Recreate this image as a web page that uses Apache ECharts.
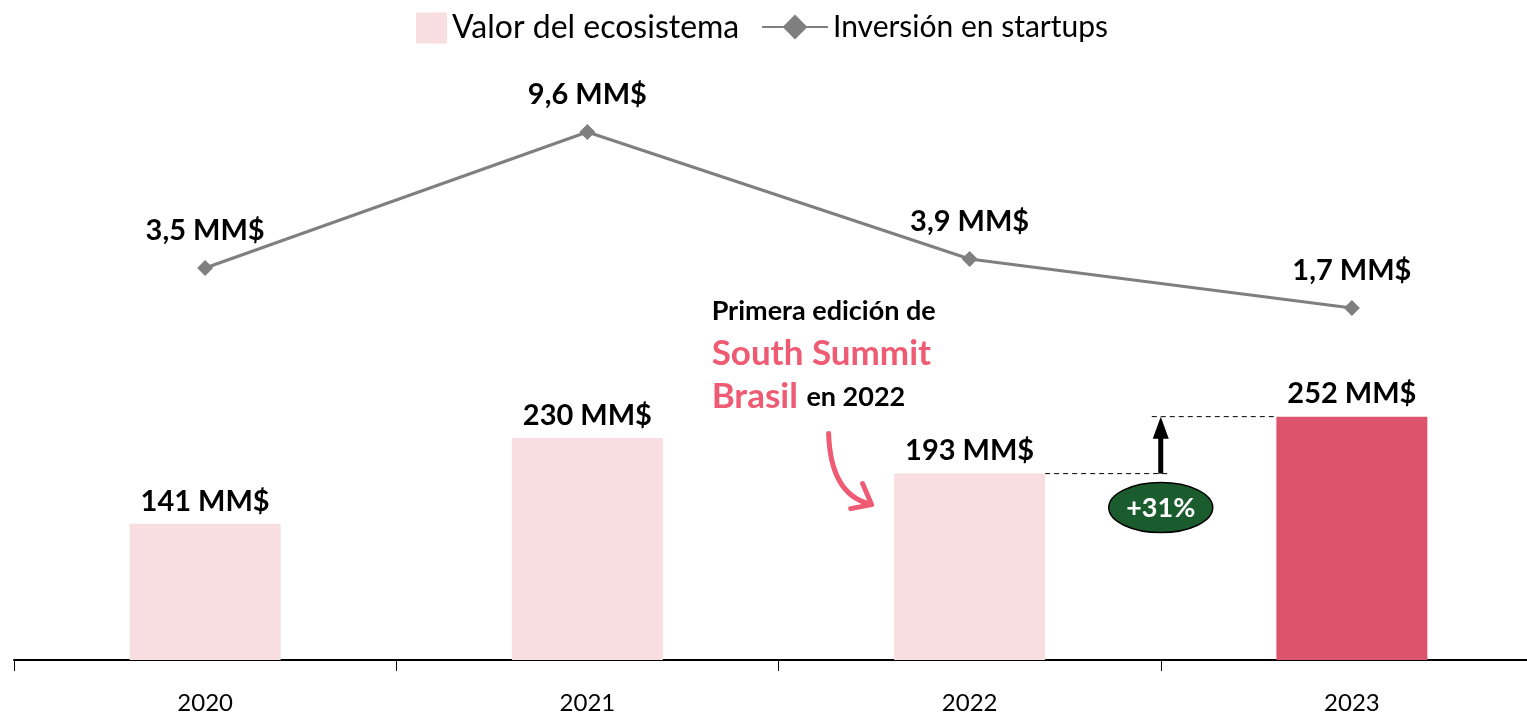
<!DOCTYPE html>
<html>
<head>
<meta charset="utf-8">
<script src="https://cdn.jsdelivr.net/npm/echarts@6/dist/echarts.min.js"></script>
<style>
  html, body { margin: 0; padding: 0; background: #fff; }
  #chart { width: 1527px; height: 716px; }
</style>
</head>
<body>
<div id="chart"></div>
<script>
// Ecosystem value (bars, MM$) and startup investment (line, MM$) per year
const years = ['2020', '2021', '2022', '2023'];
const ecosystemValue = [141, 230, 193, 252];
const startupInvestment = [3.5, 9.6, 3.9, 1.7];
const ecosystemLabels = ['141 MM$', '230 MM$', '193 MM$', '252 MM$'];
const investmentLabels = ['3,5 MM$', '9,6 MM$', '3,9 MM$', '1,7 MM$'];
const growthLabel = '+31%';

const PINK_LIGHT = '#f8dde1';
const PINK_DARK = '#dc546c';
const ACCENT = '#ee5b73';
const GRAY = '#7f7f7f';
const FONT = 'Lato, "Open Sans", sans-serif';

const chart = echarts.init(document.getElementById('chart'), null, { renderer: 'canvas' });

const barData = ecosystemValue.map((v, i) => ({
  value: v,
  itemStyle: { color: i === ecosystemValue.length - 1 ? PINK_DARK : PINK_LIGHT }
}));

chart.setOption({
  animation: false,
  textStyle: { fontFamily: FONT },
  legend: [
    {
      data: [{ name: 'Valor del ecosistema', icon: 'rect' }],
      left: 411, top: 7,
      itemWidth: 31, itemHeight: 31,
      textStyle: { fontSize: 32, color: '#000', fontFamily: FONT }
    },
    {
      data: ['Inversión en startups'],
      left: 756, top: 7,
      itemWidth: 66, itemHeight: 31,
      textStyle: { fontSize: 30, color: '#000', fontFamily: FONT }
    }
  ],
  grid: { left: 14, width: 1529, top: 40, bottom: 56, outerBoundsMode: 'none' },
  xAxis: {
    type: 'category',
    data: years,
    boundaryGap: true,
    axisLine: { lineStyle: { color: '#000', width: 2 } },
    axisTick: { show: true, length: 11, lineStyle: { color: '#000', width: 1 } },
    axisLabel: { fontSize: 24, color: '#000', margin: 31, fontFamily: FONT }
  },
  yAxis: [
    { type: 'value', min: 0, max: 642, show: false, splitLine: { show: false } },
    { type: 'value', min: -14.084, max: 13.725, show: false, splitLine: { show: false } }
  ],
  series: [
    {
      name: 'Valor del ecosistema',
      type: 'bar',
      data: barData,
      barWidth: 151,
      itemStyle: { color: PINK_LIGHT },
      label: {
        show: true, position: 'top', distance: 8,
        formatter: p => ecosystemLabels[p.dataIndex],
        fontSize: 29, fontWeight: 'bold', color: '#000', fontFamily: FONT
      },
      z: 2
    },
    {
      name: 'Inversión en startups',
      type: 'line',
      yAxisIndex: 1,
      data: startupInvestment,
      symbol: 'diamond',
      symbolSize: 16,
      lineStyle: { color: GRAY, width: 3 },
      itemStyle: { color: GRAY },
      label: {
        show: true, position: 'top', distance: 15,
        formatter: p => investmentLabels[p.dataIndex],
        fontSize: 29, fontWeight: 'bold', color: '#000', fontFamily: FONT
      },
      z: 3
    }
  ]
});

// Annotation overlay positioned from the chart's own scales
function px(cat, val) {
  return chart.convertToPixel({ xAxisIndex: 0, yAxisIndex: 0 }, [cat, val]);
}
const p22 = px('2022', ecosystemValue[2]);
const p23 = px('2023', ecosystemValue[3]);
const half = 151 / 2;
const midX = (p22[0] + p23[0]) / 2;
const y22 = p22[1];
const y23 = p23[1];

// curved arrow pointing at the 2022 bar
const ax = p22[0] - 141, ay = y22 - 40;

chart.setOption({
  graphic: [
    {
      type: 'text',
      x: p22[0] - 258, y: y22 - 184,
      style: {
        text: '{a|Primera edición de}\n{b|South Summit}\n{b|Brasil }{a|en 2022}',
        rich: {
          a: { fontSize: 27, fontWeight: 'bold', fill: '#000', fontFamily: FONT, lineHeight: 43 },
          b: { fontSize: 35, fontWeight: 'bold', fill: ACCENT, fontFamily: FONT, lineHeight: 43 }
        }
      }
    },
    {
      type: 'bezierCurve',
      shape: {
        x1: ax, y1: ay,
        cpx1: ax + 2, cpy1: ay + 60,
        x2: ax + 40, y2: ay + 70
      },
      style: { stroke: ACCENT, lineWidth: 5, fill: null, lineCap: 'round' }
    },
    {
      type: 'polyline',
      shape: { points: [[ax + 34, ay + 50], [ax + 43, ay + 71], [ax + 22, ay + 75]] },
      style: { stroke: ACCENT, lineWidth: 5, fill: null, lineCap: 'round', lineJoin: 'round' }
    },
    {
      type: 'line',
      shape: { x1: p22[0] + half, y1: y22, x2: midX + 10, y2: y22 },
      style: { stroke: '#000', lineWidth: 1, lineDash: [5, 4] }
    },
    {
      type: 'line',
      shape: { x1: midX - 9, y1: y23, x2: p23[0] - half, y2: y23 },
      style: { stroke: '#000', lineWidth: 1, lineDash: [5, 4] }
    },
    {
      type: 'line',
      shape: { x1: midX, y1: y22, x2: midX, y2: y23 + 20 },
      style: { stroke: '#000', lineWidth: 5 }
    },
    {
      type: 'polygon',
      shape: { points: [[midX - 8, y23 + 22], [midX + 8, y23 + 22], [midX, y23]] },
      style: { fill: '#000' }
    },
    {
      type: 'ellipse',
      shape: { cx: midX, cy: y22 + 34, rx: 52, ry: 25 },
      style: { fill: '#1a5c2e', stroke: '#000', lineWidth: 1.5 }
    },
    {
      type: 'text',
      x: midX, y: y22 + 35,
      style: {
        text: growthLabel, fontSize: 27, fontWeight: 'bold', fill: '#fff',
        fontFamily: FONT, align: 'center', verticalAlign: 'middle'
      }
    }
  ]
});
</script>
</body>
</html>
